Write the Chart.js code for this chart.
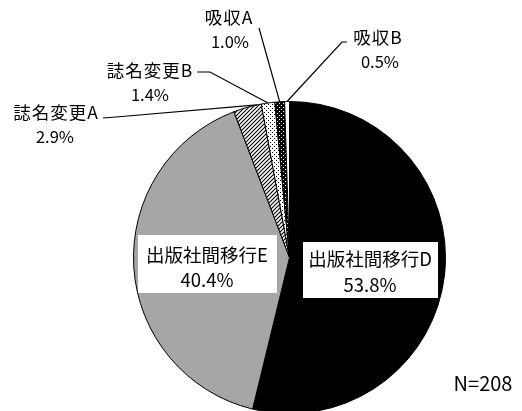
<!DOCTYPE html>
<html>
<head>
<meta charset="utf-8">
<script src="https://cdn.jsdelivr.net/npm/chart.js@4/dist/chart.umd.min.js"></script>
<style>
  html, body { margin: 0; padding: 0; background: #fff; overflow: hidden; }
  #wrap { width: 522px; height: 430px; }
</style>
</head>
<body>
<div id="wrap"><canvas id="c" width="522" height="430"></canvas></div>
<script>
// ---- data ----
const categories = ["出版社間移行D", "出版社間移行E", "誌名変更A", "誌名変更B", "吸収A", "吸収B"];
const percentValues = [53.8, 40.4, 2.9, 1.4, 1.0, 0.5];
const sampleNote = "N=208";

const FONT = '"Noto Sans CJK JP", "Noto Sans", sans-serif';

function makePattern(kind) {
  const c = document.createElement('canvas');
  const g = c.getContext('2d');
  if (kind === 'hatch') {
    c.width = 4; c.height = 4;
    g.fillStyle = '#fff'; g.fillRect(0, 0, 4, 4);
    g.strokeStyle = '#000'; g.lineWidth = 1.1;
    g.beginPath();
    g.moveTo(0, 4); g.lineTo(4, 0);
    g.moveTo(-1, 1); g.lineTo(1, -1);
    g.moveTo(3, 5); g.lineTo(5, 3);
    g.stroke();
  } else if (kind === 'dots') {
    c.width = 4; c.height = 4;
    g.fillStyle = '#fff'; g.fillRect(0, 0, 4, 4);
    g.fillStyle = '#000';
    g.fillRect(0, 0, 1, 1); g.fillRect(2, 2, 1, 1);
  } else if (kind === 'darkdots') {
    c.width = 4; c.height = 4;
    g.fillStyle = '#000'; g.fillRect(0, 0, 4, 4);
    g.fillStyle = '#fff';
    g.fillRect(1, 1, 1, 1); g.fillRect(3, 3, 1, 1);
  }
  return g.createPattern(c, 'repeat');
}

const fills = ['#000000', '#a6a6a6', makePattern('hatch'), makePattern('dots'), makePattern('darkdots'), '#ffffff'];

// label layout (screen positions of label text, leader elbows)
const outerLayout = {
  2: { lines: [[56, 112], [55, 137]], path: [[103, 118], [116, 117]], frac: 0.85 },
  3: { lines: [[150, 70], [150, 95]], path: [[197, 72], [210, 72]], frac: 0.5 },
  4: { lines: [[229, 17], [230, 42]], path: [[259, 28]], frac: 0.5 },
  5: { lines: [[378, 37], [380, 62]], path: [[347, 42], [342, 42]], frac: 0.5 }
};
const innerLayout = {
  0: { box: [303, 242, 135, 56], lines: [[370, 259], [370, 285]] },
  1: { box: [138, 235, 139, 58], lines: [[207, 255], [207, 280]] }
};

const labelPlugin = {
  id: 'labels',
  afterDraw(chart) {
    const ctx = chart.ctx;
    const meta = chart.getDatasetMeta(0);
    ctx.save();
    ctx.textAlign = 'center';
    ctx.textBaseline = 'middle';
    ctx.fillStyle = '#000';
    // inner labels
    Object.keys(innerLayout).forEach(k => {
      const i = +k, L = innerLayout[k];
      ctx.fillStyle = '#fff';
      ctx.fillRect(L.box[0], L.box[1], L.box[2], L.box[3]);
      ctx.fillStyle = '#000';
      ctx.font = '18.5px ' + FONT;
      ctx.fillText(categories[i], L.lines[0][0], L.lines[0][1]);
      ctx.fillText(percentValues[i].toFixed(1) + '%', L.lines[1][0], L.lines[1][1]);
    });
    // outer labels with leader lines
    Object.keys(outerLayout).forEach(k => {
      const i = +k, L = outerLayout[k];
      const arc = meta.data[i];
      const a = arc.startAngle + (arc.endAngle - arc.startAngle) * L.frac;
      const ax = arc.x + Math.cos(a) * arc.outerRadius;
      const ay = arc.y + Math.sin(a) * arc.outerRadius;
      ctx.strokeStyle = '#000';
      ctx.lineWidth = 1.2;
      ctx.beginPath();
      ctx.moveTo(L.path[0][0], L.path[0][1]);
      for (let j = 1; j < L.path.length; j++) ctx.lineTo(L.path[j][0], L.path[j][1]);
      ctx.lineTo(ax, ay);
      ctx.stroke();
      ctx.font = '17.5px ' + FONT;
      if ('letterSpacing' in ctx) ctx.letterSpacing = '1px';
      ctx.fillText(categories[i], L.lines[0][0], L.lines[0][1]);
      if ('letterSpacing' in ctx) ctx.letterSpacing = '0px';
      ctx.font = '16.5px ' + FONT;
      ctx.fillText(percentValues[i].toFixed(1) + '%', L.lines[1][0], L.lines[1][1]);
    });
    ctx.font = '20px ' + FONT;
    ctx.fillText(sampleNote, 483, 383);
    ctx.restore();
  }
};

new Chart(document.getElementById('c'), {
  type: 'pie',
  data: {
    labels: categories,
    datasets: [{
      data: percentValues,
      backgroundColor: fills,
      borderColor: '#000',
      borderWidth: 1
    }]
  },
  options: {
    responsive: false,
    animation: false,
    rotation: 0,
    layout: { padding: { left: 133, right: 76, top: 101, bottom: 16 } },
    plugins: {
      legend: { display: false },
      tooltip: { enabled: false }
    }
  },
  plugins: [labelPlugin]
});
</script>
</body>
</html>
